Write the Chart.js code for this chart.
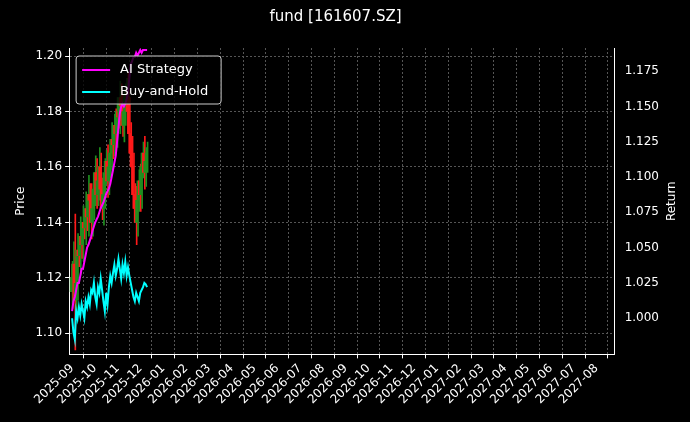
<!DOCTYPE html>
<html><head><meta charset="utf-8">
<script src="https://cdn.jsdelivr.net/npm/chart.js@4"></script>
<style>html,body{margin:0;background:#000}#c{width:690px;height:422px}</style>
</head><body><div id="c"><canvas id="cv"></canvas></div>
<script>
const months = ['2025-09','2025-10','2025-11','2025-12','2026-01','2026-02','2026-03','2026-04','2026-05','2026-06','2026-07','2026-08','2026-09','2026-10','2026-11','2026-12','2027-01','2027-02','2027-03','2027-04','2027-05','2027-06','2027-07','2027-08'];
// daily closes (left axis, price)
const closes = [1.120,1.125,1.112,1.118,1.130,1.128,1.135,1.132,1.140,1.138,1.145,1.142,1.150,1.148,1.140,1.145,1.152,1.158,1.150,1.155,1.160,1.152,1.145,1.150,1.158,1.162,1.155,1.160,1.165,1.170,1.168,1.175,1.172,1.180,1.178,1.185,1.182,1.175,1.180,1.185,1.188,1.180,1.172,1.165,1.160,1.150,1.145,1.140,1.148,1.155,1.150,1.160,1.165,1.158,1.162,1.165];
const wicks = [0.006,0.008,0.018,0.005,0.006,0.004,0.007,0.005,0.006,0.004,0.006,0.005,0.007,0.004,0.006,0.005,0.004,0.006,0.005,0.004,0.007,0.005,0.004,0.006,0.005,0.004,0.006,0.005,0.004,0.006,0.005,0.004,0.006,0.005,0.004,0.006,0.005,0.004,0.006,0.005,0.004,0.006,0.005,0.004,0.006,0.005,0.004,0.008,0.005,0.004,0.006,0.005,0.004,0.006,0.005,0.004];
const firstOpen = 1.115;
// strategy / buy-and-hold returns (right axis)
const aiRet = [1.005,1.012,1.015,1.020,1.025,1.025,1.030,1.035,1.035,1.040,1.045,1.050,1.052,1.055,1.058,1.062,1.065,1.068,1.070,1.072,1.075,1.078,1.080,1.082,1.085,1.088,1.090,1.092,1.095,1.100,1.105,1.110,1.115,1.125,1.135,1.145,1.150,1.152,1.150,1.152,1.155,1.160,1.170,1.180,1.182,1.185,1.185,1.188,1.186,1.188,1.190,1.188,1.190,1.190,1.190,1.190];
const bhRet = [1.000,0.990,0.985,1.005,1.000,1.008,1.002,1.010,1.005,1.000,1.012,1.008,1.015,1.010,1.020,1.018,1.025,1.015,1.010,1.022,1.018,1.028,1.020,1.012,1.005,1.018,1.010,1.022,1.030,1.025,1.032,1.038,1.030,1.035,1.042,1.035,1.028,1.038,1.032,1.040,1.030,1.036,1.030,1.025,1.020,1.015,1.012,1.018,1.015,1.012,1.018,1.020,1.022,1.025,1.024,1.022];
const dayStep = 3.35 / closes.length; // months per trading day

const opens = closes.map((c, i) => i ? closes[i - 1] : firstOpen);
const xs = closes.map((c, i) => i * dayStep);
const col = closes.map((c, i) => c >= opens[i] ? '#1f8f1f' : '#ff1a1a');
const font = {family: 'DejaVu Sans', size: 12};

const legendBox = {
  id: 'legendBox',
  afterDatasetsDraw(chart) {
    const {ctx, chartArea: a} = chart;
    ctx.save();
    ctx.fillStyle = 'rgba(0,0,0,0.8)';
    ctx.strokeStyle = '#ccc';
    ctx.lineWidth = 1;
    ctx.beginPath();
    ctx.roundRect(a.left + 7, a.top + 8, 145, 48, 3);
    ctx.fill(); ctx.stroke();
    ctx.font = '13px "DejaVu Sans"';
    ctx.textBaseline = 'middle';
    [['AI Strategy', '#ff00ff', 22], ['Buy-and-Hold', '#00ffff', 44]].forEach(([t, c, y]) => {
      ctx.strokeStyle = c; ctx.lineWidth = 2;
      ctx.beginPath(); ctx.moveTo(a.left + 13, a.top + y); ctx.lineTo(a.left + 41, a.top + y); ctx.stroke();
      ctx.fillStyle = '#fff'; ctx.fillText(t, a.left + 51, a.top + y);
    });
    // right axis title, reading bottom-to-top like matplotlib
    ctx.translate(672, (a.top + a.bottom) / 2);
    ctx.rotate(-Math.PI / 2);
    ctx.textAlign = 'center';
    ctx.font = '12px "DejaVu Sans"';
    ctx.fillText('Return', 0, 0);
    ctx.restore();
  }
};

new Chart(document.getElementById('cv'), {
  data: {
    datasets: [
      {type: 'line', data: aiRet.map((v, i) => ({x: xs[i], y: v})), yAxisID: 'y1', borderColor: '#ff00ff', borderWidth: 2, pointRadius: 0, order: 1},
      {type: 'line', data: bhRet.map((v, i) => ({x: xs[i], y: v})), yAxisID: 'y1', borderColor: '#00ffff', borderWidth: 2, pointRadius: 0, order: 1},
      {type: 'bar', data: closes.map((c, i) => ({x: xs[i], y: [Math.min(c, opens[i]) - wicks[i], Math.max(c, opens[i]) + wicks[i]]})), yAxisID: 'y', backgroundColor: col, barThickness: 1, order: 3},
      {type: 'bar', data: closes.map((c, i) => ({x: xs[i], y: [opens[i], c]})), yAxisID: 'y', backgroundColor: col, barThickness: 2, order: 2}
    ]
  },
  options: {
    responsive: true, maintainAspectRatio: false, animation: false,
    layout: {padding: {left: 10, right: 29, top: 0, bottom: 12}},
    plugins: {
      legend: {display: false}, tooltip: {enabled: false},
      title: {display: true, text: 'fund [161607.SZ]', color: '#fff', font: {family: 'DejaVu Sans', size: 15, weight: 'normal'}, padding: {top: 8, bottom: 22}}
    },
    scales: {
      x: {type: 'linear', min: -0.13, max: 23.8, offset: false,
        afterBuildTicks: s => { s.ticks = months.map((m, i) => ({value: i})); },
        ticks: {color: '#fff', font, minRotation: 45, maxRotation: 45, autoSkip: false, callback: v => months[v]},
        grid: {color: '#555', tickColor: '#fff', tickLength: 4}, border: {color: '#fff', dash: [2, 2]}},
      y: {position: 'left', min: 1.0924, max: 1.2029,
        afterBuildTicks: s => { s.ticks = [1.10, 1.12, 1.14, 1.16, 1.18, 1.20].map(v => ({value: v})); },
        ticks: {color: '#fff', font, callback: v => v.toFixed(2)},
        title: {display: true, text: 'Price', color: '#fff', font},
        grid: {color: '#555', tickColor: '#fff', tickLength: 4}, border: {color: '#fff', dash: [2, 2]}},
      y1: {position: 'right', min: 0.9744, max: 1.1914,
        afterBuildTicks: s => { s.ticks = [1.000, 1.025, 1.050, 1.075, 1.100, 1.125, 1.150, 1.175].map(v => ({value: v})); },
        ticks: {color: '#fff', font, padding: 2, callback: v => v.toFixed(3)},
        grid: {display: false, tickColor: '#fff'}, border: {color: '#fff'}}
    }
  },
  plugins: [legendBox]
});
</script></body></html>
